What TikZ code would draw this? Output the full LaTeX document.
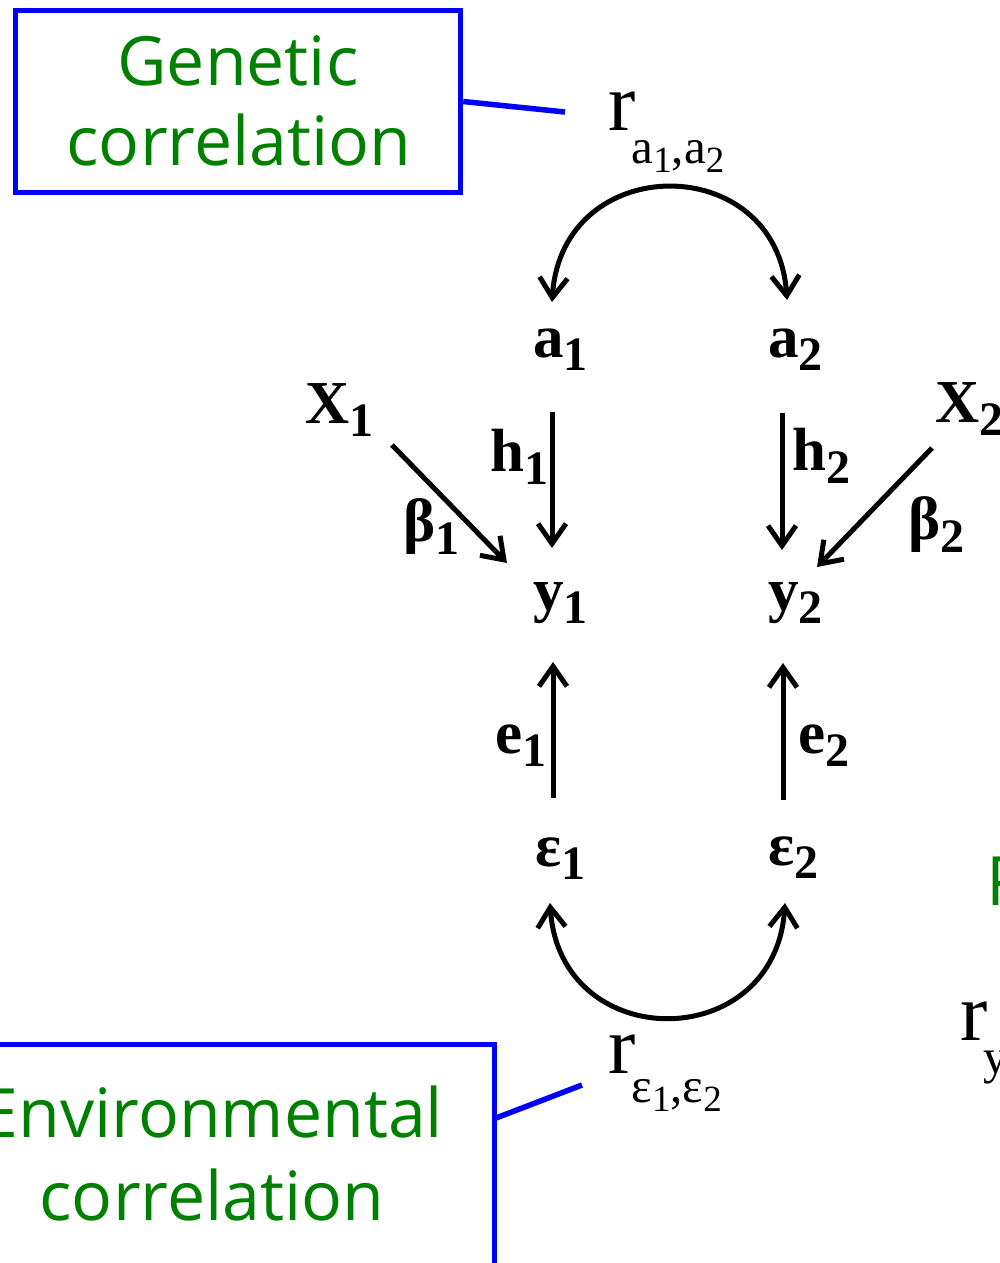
\documentclass[tikz,border=0pt]{standalone}
\usepackage{fontspec}
\setmainfont{Liberation Serif}
\newfontfamily\greenfont{Open Sans}
\usetikzlibrary{arrows.meta}
\definecolor{boxblue}{RGB}{0,0,255}
\definecolor{txtgreen}{RGB}{0,128,0}
\newcommand{\lbl}[2]{#1\raisebox{-13pt}{\fontsize{48}{48}\selectfont #2}}
\newcommand{\subsz}{\fontsize{49}{49}\selectfont}
\newcommand{\subsubsz}{\fontsize{37}{37}\selectfont}
\begin{document}
\begin{tikzpicture}[x=1pt,y=-1pt,
  lab/.style={inner sep=0pt, anchor=base west, font=\fontsize{61}{61}\selectfont\bfseries},
  rtext/.style={inner sep=0pt, anchor=base west, font=\fontsize{82}{82}\selectfont},
  gtext/.style={inner sep=0pt, anchor=base, text=txtgreen, font=\greenfont\fontsize{68}{68}\selectfont},
  blueline/.style={draw=boxblue, line width=5.5pt},
  arr/.style={line width=5pt, -{Straight Barb[length=20pt,width=28pt]}},
  arc2/.style={line width=5pt, {Straight Barb[length=20pt,width=28pt]}-{Straight Barb[length=20pt,width=28pt]}}]
\useasboundingbox (0,0) rectangle (1000,1263);
\clip (0,0) rectangle (1000,1263);
\fill[white] (0,0) rectangle (1000,1263);

% Genetic correlation box
\node[blueline, minimum width=445pt, minimum height=182pt, inner sep=0pt] (gbox) at (238,101.5) {};
\node[gtext] (g1) at (238,85) {Genetic};
\node[gtext] (g2) at (239,165) {correlation};
\node[rtext] (ra) at (608,130) {r\kern-4pt\raisebox{-33pt}{\subsz a\raisebox{-9pt}{\subsubsz 1},a\raisebox{-9pt}{\subsubsz 2}}};
\coordinate (gend) at (565,112);
\draw[blueline] (gbox.east) -- (gend);

% Environmental correlation box
\node[blueline, minimum width=567pt, minimum height=275pt, inner sep=0pt] (ebox) at (211,1182) {};
\node[gtext] (e1t) at (212,1137) {Environmental};
\node[gtext] (e2t) at (212,1220) {correlation};
\node[rtext] (re) at (608,1073) {r\kern-4pt\raisebox{-29pt}{\subsz ε\raisebox{-9pt}{\subsubsz 1},ε\raisebox{-9pt}{\subsubsz 2}}};
\coordinate (ea) at (496,1118);
\coordinate (eb) at (582,1085);
\draw[blueline] (ea) -- (eb);

% Right partial elements
\node[gtext, anchor=base west] (pp) at (986,905) {P};
\node[rtext] (ry) at (960,1040) {r\kern-4pt\raisebox{-33pt}{\subsz y}};

% variables
\node[lab] (a1) at (533,357) {\lbl{a}{1}};
\node[lab] (a2) at (768,357) {\lbl{a}{2}};
\node[lab] (x1) at (305,423) {\lbl{X}{1}};
\node[lab] (x2) at (935,422) {\lbl{X}{2}};
\node[lab] (h1) at (490,471) {\lbl{h}{1}};
\node[lab] (h2) at (792,470) {\lbl{h}{2}};
\node[lab] (b1) at (403,541) {\lbl{β}{1}};
\node[lab] (b2) at (908,539) {\lbl{β}{2}};
\node[lab] (y1) at (533,610) {\lbl{y}{1}};
\node[lab] (y2) at (768,610) {\lbl{y}{2}};
\node[lab] (ee1) at (495,753) {\lbl{e}{1}};
\node[lab] (ee2) at (798,753) {\lbl{e}{2}};
\node[lab] (eps1) at (535,866) {\lbl{ε}{1}};
\node[lab] (eps2) at (768,865) {\lbl{ε}{2}};

% arrow end points
\coordinate (h1s) at (552,412); \coordinate (h1e) at (552,548);
\coordinate (h2s) at (782,413); \coordinate (h2e) at (782,550);
\coordinate (b1s) at (392,445); \coordinate (b1e) at (507,563);
\coordinate (b2s) at (932,448); \coordinate (b2e) at (817,567);
\coordinate (e1s) at (553,798); \coordinate (e1e) at (553,662);
\coordinate (e2s) at (783,800); \coordinate (e2e) at (783,663);
\coordinate (ta1) at (552,302); \coordinate (ta2) at (787,300);
\coordinate (ba1) at (550,903); \coordinate (ba2) at (785,903);

\draw[arr] (h1s) -- (h1e);
\draw[arr] (h2s) -- (h2e);
\draw[arr] (b1s) -- (b1e);
\draw[arr] (b2s) -- (b2e);
\draw[arr] (e1s) -- (e1e);
\draw[arr] (e2s) -- (e2e);
\draw[arc2] (ta1) .. controls (562,150) and (777,150) .. (ta2);
\draw[arc2] (ba1) .. controls (560,1055) and (775,1055) .. (ba2);
\end{tikzpicture}
\end{document}
